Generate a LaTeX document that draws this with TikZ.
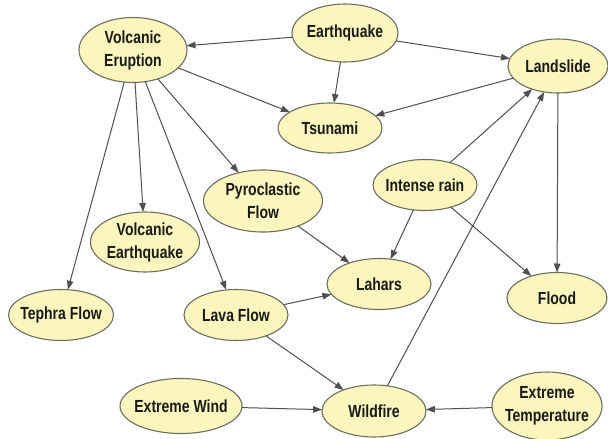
\documentclass[tikz,border=0pt]{standalone}
\usepackage{fontspec}
\newfontfamily\lblfont[FakeStretch=0.8]{Liberation Sans}
\usetikzlibrary{shapes.geometric,arrows.meta}
\definecolor{nodefill}{RGB}{250,246,190}
\definecolor{nodeline}{RGB}{110,110,95}
\definecolor{edgecol}{RGB}{80,80,80}
\definecolor{txtcol}{RGB}{25,25,25}
\tikzset{
 ev/.style={ellipse, draw=nodeline, fill=nodefill, line width=1.1pt, inner sep=0pt, outer sep=0pt},
 lb/.style={font=\lblfont\bfseries\fontsize{17.5}{23}\selectfont, text=txtcol, align=center, inner sep=0pt},
 ed/.style={draw=edgecol, line width=1pt, -{Triangle[length=9pt,width=6.5pt]}},
}
\begin{document}
\begin{tikzpicture}[x=1pt,y=-1pt]
\useasboundingbox (0,0) rectangle (608,439);
\fill[white] (0,0) rectangle (608,439);

\node[ev, minimum width=108, minimum height=65, label={[lb]center:Volcanic\\Eruption}] (ve) at (133,50) {};
\node[ev, minimum width=106, minimum height=58, label={[lb]center:Earthquake}] (eq) at (345,33) {};
\node[ev, minimum width=100, minimum height=54, label={[lb]center:Landslide}] (ls) at (558,66) {};
\node[ev, minimum width=104, minimum height=50, label={[lb]center:Tsunami}] (ts) at (330,128) {};
\node[ev, minimum width=104, minimum height=51, label={[lb]center:Intense rain}] (ir) at (425,185) {};
\node[ev, minimum width=119, minimum height=62, label={[lb]center:Pyroclastic\\Flow}] (pf) at (263,201) {};
\node[ev, minimum width=109, minimum height=60, label={[lb]center:Volcanic\\Earthquake}] (veq) at (145,242) {};
\node[ev, minimum width=104, minimum height=51, label={[lb]center:Lahars}] (lh) at (379,284) {};
\node[ev, minimum width=100, minimum height=51, label={[lb]center:Flood}] (fl) at (557,298) {};
\node[ev, minimum width=105, minimum height=51, label={[lb]center:Tephra Flow}] (tf) at (61,315) {};
\node[ev, minimum width=104, minimum height=51, label={[lb]center:Lava Flow}] (lf) at (236,315) {};
\node[ev, minimum width=122, minimum height=55, label={[lb]center:Extreme Wind}] (ew) at (181,406) {};
\node[ev, minimum width=104, minimum height=52, label={[lb]center:Wildfire}] (wf) at (374,411) {};
\node[ev, minimum width=110, minimum height=68, label={[lb]center:Extreme\\Temperature}] (et) at (547,406) {};

\draw[ed] (eq) -- (ve);
\draw[ed] (eq) -- (ts);
\draw[ed] (eq) -- (ls);
\draw[ed] (ls) -- (ts);
\draw[ed] (ve) -- (ts);
\draw[ed] (ve) -- (pf);
\draw[ed] (ve) -- (veq);
\draw[ed] (ve) -- (tf);
\draw[ed] (ve) -- (lf);
\draw[ed] (ir) -- (ls);
\draw[ed] (ir) -- (lh);
\draw[ed] (ir) -- (fl);
\draw[ed] (ls) -- (fl);
\draw[ed] (pf) -- (lh);
\draw[ed] (lf) -- (lh);
\draw[ed] (lf) -- (wf);
\draw[ed] (wf) -- (ls);
\draw[ed] (ew) -- (wf);
\draw[ed] (et) -- (wf);
\end{tikzpicture}
\end{document}
